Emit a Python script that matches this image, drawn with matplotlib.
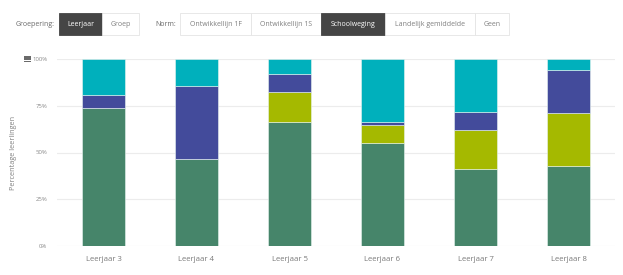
import matplotlib
matplotlib.use("Agg")
import matplotlib.pyplot as plt
from matplotlib.patches import Rectangle

plt.rcParams["font.family"] = ["Open Sans", "DejaVu Sans"]

# data (percent of students per segment, bottom to top)
categories = ["Leerjaar 3", "Leerjaar 4", "Leerjaar 5", "Leerjaar 6", "Leerjaar 7", "Leerjaar 8"]
seg_green = [74.0, 46.7, 66.1, 54.9, 41.4, 43.0]
seg_lime = [0.0, 0.0, 16.1, 10.0, 20.6, 28.0]
seg_blue = [7.0, 38.7, 9.8, 1.4, 9.5, 23.1]
seg_teal = [19.0, 14.6, 8.0, 33.7, 28.5, 5.9]

y_ticks = [0, 25, 50, 75, 100]
y_tick_labels = ["0%", "25%", "50%", "75%", "100%"]

group_buttons = ["Leerjaar", "Groep"]
norm_buttons = ["Ontwikkellijn 1F", "Ontwikkellijn 1S", "Schoolweging",
                "Landelijk gemiddelde", "Geen"]

colors = ["#46856a", "#a5b900", "#434b9b", "#00b0bc"]

W, H = 623, 275
fig = plt.figure(figsize=(W / 100, H / 100), dpi=100)
fig.patch.set_facecolor("white")

ax = fig.add_axes([57 / W, 29 / H, 558 / W, 187 / H])
x = list(range(len(categories)))
bottom = [0.0] * len(categories)
for vals, col in zip([seg_green, seg_lime, seg_blue, seg_teal], colors):
    ax.bar(x, vals, width=0.47, bottom=bottom, color=col,
           edgecolor="#e8f4f0", linewidth=0.4, zorder=3)
    bottom = [b + v for b, v in zip(bottom, vals)]

ax.set_xlim(-0.5, len(categories) - 0.5)
ax.set_ylim(0, 100)
ax.set_yticks(y_ticks)
ax.set_yticklabels(y_tick_labels)
ax.set_xticks(x)
ax.set_xticklabels(categories)
ax.tick_params(axis="y", length=0, labelsize=4.3, colors="#8a8a8a", pad=7)
ax.tick_params(axis="x", length=0, labelsize=5.6, colors="#7a7a7a", pad=7)
ax.grid(axis="y", color="#ececec", linewidth=0.8, zorder=0)
for s in ax.spines.values():
    s.set_visible(False)
ax.set_ylabel("Percentage leerlingen", fontsize=5.2, color="#808080", labelpad=11)

# hamburger menu icon
for dy in (0, 2.3, 4.6):
    fig.add_artist(Rectangle((24 / W, (H - 57.5 - dy) / H), 7 / W, 1.4 / H,
                             transform=fig.transFigure, color="#6a6a6a", lw=0))


def button(x0, x1, label, active):
    y0, y1 = 13, 35
    face = "#454545" if active else "white"
    edge = "#454545" if active else "#e4e4e4"
    fig.add_artist(Rectangle((x0 / W, (H - y1) / H), (x1 - x0) / W, (y1 - y0) / H,
                             transform=fig.transFigure, facecolor=face,
                             edgecolor=edge, linewidth=0.6))
    fig.text((x0 + x1) / 2 / W, (H - (y0 + y1) / 2) / H, label,
             ha="center", va="center", fontsize=5.0,
             color="white" if active else "#808080")


fig.text(55 / W, (H - 24) / H, "Groepering:", ha="right", va="center",
         fontsize=5.0, color="#6a6a6a")
group_edges = [59, 102, 139]
for i, lab in enumerate(group_buttons):
    button(group_edges[i], group_edges[i + 1], lab, i == 0)

fig.text(176 / W, (H - 24) / H, "Norm:", ha="right", va="center",
         fontsize=5.0, color="#6a6a6a")
norm_edges = [180, 251, 321, 385, 475, 509]
for i, lab in enumerate(norm_buttons):
    button(norm_edges[i], norm_edges[i + 1], lab, i == 2)

fig.savefig("out.png", dpi=100)
